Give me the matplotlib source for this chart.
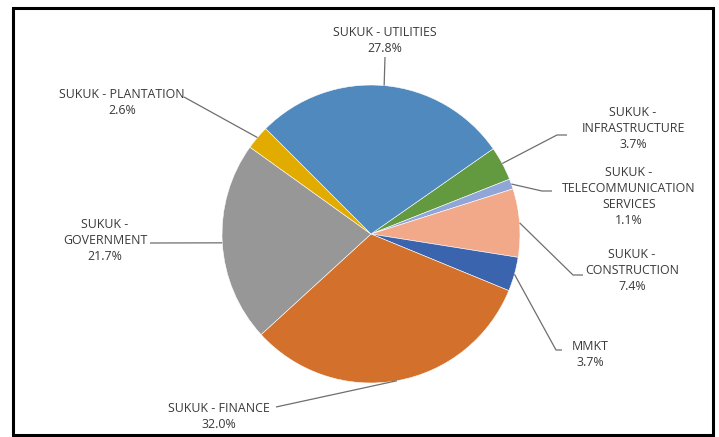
import matplotlib
matplotlib.use("Agg")
import matplotlib.pyplot as plt
from matplotlib.patches import Rectangle
import numpy as np

# ---- data (clockwise from the utilities/infrastructure boundary) ----
labels = ["SUKUK -\nINFRASTRUCTURE", "SUKUK -\nTELECOMMUNICATION\nSERVICES",
          "SUKUK -\nCONSTRUCTION", "MMKT", "SUKUK - FINANCE",
          "SUKUK -\nGOVERNMENT", "SUKUK - PLANTATION", "SUKUK - UTILITIES"]
values = [3.7, 1.1, 7.4, 3.7, 32.0, 21.7, 2.6, 27.8]
colors = ["#63993F", "#91A6D8", "#F2A98A", "#3B64AE",
          "#D3702C", "#979797", "#E2AB00", "#5089BE"]

W, H = 719, 437
fig = plt.figure(figsize=(W / 100, H / 100), dpi=100)
ax = fig.add_axes([0, 0, 1, 1])

def Y(y):
    return H - y

cx, cy, r = 371, 234, 149
start = 34.9
wedges, _ = ax.pie(values, colors=colors, startangle=start, counterclock=False,
                   center=(cx, Y(cy)), radius=r, frame=True,
                   wedgeprops=dict(edgecolor="white", linewidth=0.4))
ax.set_xlim(0, W)
ax.set_ylim(0, H)
ax.set_aspect("equal")
ax.axis("off")

# label layout: text center, line points from label side (pixel coords)
layout = [
    dict(t=(633, 128), pts=[(567, 135), (557, 135)]),
    dict(t=(629, 196), pts=[(552, 191), (542, 191)]),
    dict(t=(632, 271), pts=[(583, 275), (573, 275)]),
    dict(t=(590, 354), pts=[(562, 350), (556, 350)]),
    dict(t=(219, 416), pts=[(276, 407)]),
    dict(t=(105, 240), pts=[(150, 243)]),
    dict(t=(122, 103), pts=[(184, 97)]),
    dict(t=(385, 40), pts=[(385, 57)]),
]

font = dict(family=["Open Sans", "DejaVu Sans"], fontsize=8.9, color="#3A3A3A")
for w, lab, v, lay in zip(wedges, labels, values, layout):
    ang = np.deg2rad((w.theta1 + w.theta2) / 2)
    ex = cx + r * np.cos(ang)
    ey = Y(cy) + r * np.sin(ang)
    xs = [p[0] for p in lay["pts"]] + [ex]
    ys = [Y(p[1]) for p in lay["pts"]] + [ey]
    ax.plot(xs, ys, color="#6E6E6E", lw=0.9, solid_capstyle="butt")
    ax.text(lay["t"][0], Y(lay["t"][1]), f"{lab}\n{v:.1f}%", ha="center",
            va="center", linespacing=1.3, **font)

ax.add_patch(Rectangle((12.5, Y(435)), 700, 427.5, fill=False,
                       edgecolor="black", linewidth=2.2))

fig.savefig("out.png", dpi=100)
